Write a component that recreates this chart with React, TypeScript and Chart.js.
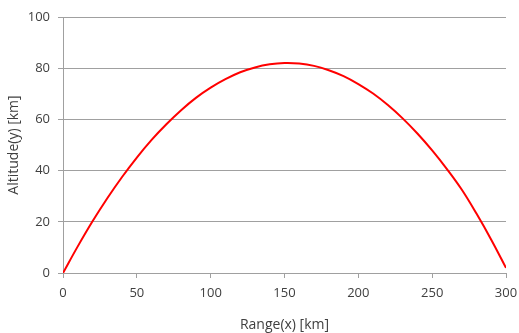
import React, { useEffect, useRef } from "react";
import { Chart, registerables } from "chart.js";

Chart.register(...registerables);

const rangeKm = [0, 10, 20, 30, 40, 50, 60, 70, 80, 90, 100, 110, 120, 130, 140, 150, 160, 170, 180, 190, 200, 210, 220, 230, 240, 250, 260, 270, 280, 290, 300];
const altitudeKm = [0, 10.4, 20.2, 29.2, 37.5, 45.1, 52.0, 58.1, 63.6, 68.4, 72.4, 75.7, 78.4, 80.3, 81.5, 82.0, 81.8, 80.9, 79.2, 76.9, 73.8, 70.1, 65.6, 60.4, 54.5, 47.9, 40.6, 32.6, 23.2, 13.0, 2.0];
const xTitle = "Range(x) [km]";
const yTitle = "Altitude(y) [km]";

export default function App() {
  const ref = useRef<HTMLCanvasElement>(null);
  useEffect(() => {
    document.body.style.margin = "0";
    const font = { family: "'Open Sans', sans-serif", size: 13 };
    const tfont = { family: "'Open Sans', sans-serif", size: 14 };
    const chart = new Chart(ref.current!, {
      type: "line",
      data: {
        datasets: [
          {
            data: rangeKm.map((x, i) => ({ x, y: altitudeKm[i] })),
            borderColor: "#ff0000",
            borderWidth: 2,
            pointRadius: 0,
            tension: 0.4,
            fill: false,
          },
        ],
      },
      options: {
        animation: false,
        responsive: false,
        layout: { padding: { top: 17, right: 13, left: 0, bottom: 0 } },
        plugins: { legend: { display: false }, tooltip: { enabled: false } },
        scales: {
          x: {
            type: "linear",
            min: 0,
            max: 300,
            ticks: { stepSize: 50, color: "#404040", font, padding: 7, maxRotation: 0 },
            grid: { drawOnChartArea: false, color: "#a0a0a0", tickLength: 5 },
            border: { color: "#a0a0a0" },
            title: { display: true, text: xTitle, color: "#404040", font: tfont, padding: { top: 8, bottom: 0 } },
            afterFit: (s: any) => { s.height = 60; s.paddingLeft = 0; s.paddingRight = 0; },
          },
          y: {
            min: 0,
            max: 100,
            ticks: { stepSize: 20, color: "#404040", font, padding: 8 },
            grid: { color: "#a0a0a0", tickLength: 5 },
            border: { color: "#a0a0a0" },
            title: { display: true, text: yTitle, color: "#404040", font: tfont, padding: { top: 6, bottom: 0 } },
            afterFit: (s: any) => { s.width = 63; s.paddingTop = 0; s.paddingBottom = 0; },
          },
        },
      },
    });
    return () => chart.destroy();
  }, []);
  return <canvas ref={ref} width={519} height={333} style={{ display: "block" }} />;
}
